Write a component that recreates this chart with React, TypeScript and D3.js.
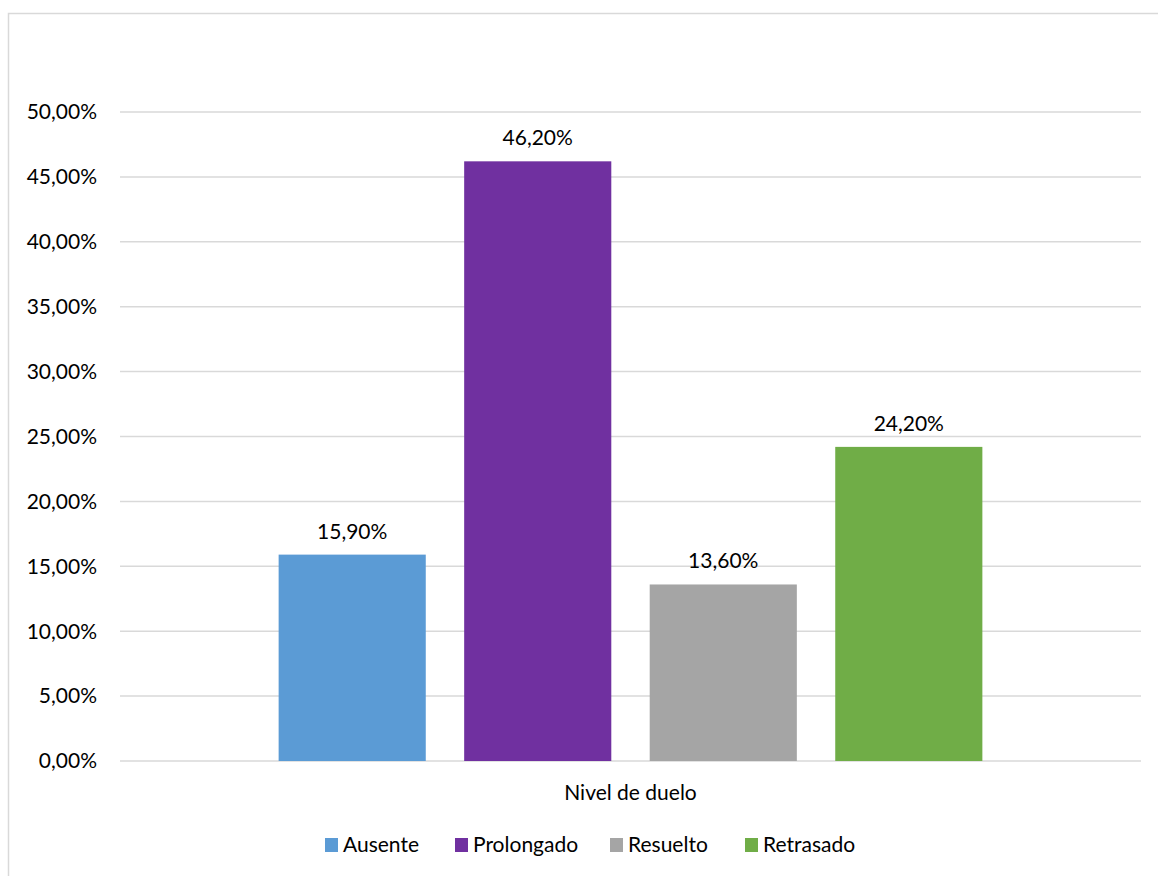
import React from "react";
import * as d3 from "d3";

const categories = ["Nivel de duelo"];
const seriesNames = ["Ausente", "Prolongado", "Resuelto", "Retrasado"];
const seriesValues = [15.9, 46.2, 13.6, 24.2];
const seriesColors = ["#5B9BD5", "#7030A0", "#A5A5A5", "#70AD47"];
const yTicks = [0, 5, 10, 15, 20, 25, 30, 35, 40, 45, 50];

const W = 1158;
const H = 876;
const plot = { left: 120, right: 1141, top: 112, bottom: 761 };
const FONT = "Lato, 'Open Sans', sans-serif";
const FS = 21;

const fmt = (v: number) => v.toFixed(2).replace(".", ",") + "%";

export default function App() {
  const y = d3.scaleLinear().domain([0, 50]).range([plot.bottom, plot.top]);
  const x0 = d3.scaleBand<string>().domain(categories).range([plot.left, plot.right]);
  const x1 = d3
    .scaleBand<string>()
    .domain(seriesNames)
    .range([0, x0.bandwidth()])
    .paddingInner(0.207)
    .paddingOuter(0.855);

  const legendX = [325, 455, 610, 745];

  return (
    <svg
      width={W}
      height={H}
      style={{ position: "absolute", left: 0, top: 0, background: "#fff" }}
      fontFamily={FONT}
    >
      <rect x={8.5} y={13.5} width={1300} height={1000} fill="#fff" stroke="#d9d9d9" strokeWidth={1.5} />
      {yTicks.map((t) => (
        <g key={t}>
          <line x1={plot.left} x2={plot.right} y1={y(t)} y2={y(t)} stroke="#d9d9d9" strokeWidth={1.5} />
          <text x={97} y={y(t)} dy="0.35em" textAnchor="end" fontSize={FS} fill="#000">
            {fmt(t)}
          </text>
        </g>
      ))}
      {categories.map((c) => (
        <g key={c}>
          {seriesNames.map((s, i) => {
            const bx = (x0(c) ?? 0) + (x1(s) ?? 0);
            const bw = x1.bandwidth();
            return (
              <g key={s}>
                <rect x={bx} y={y(seriesValues[i])} width={bw} height={y(0) - y(seriesValues[i])} fill={seriesColors[i]} />
                <text x={bx + bw / 2} y={y(seriesValues[i]) - 16} textAnchor="middle" fontSize={FS} fill="#000">
                  {fmt(seriesValues[i])}
                </text>
              </g>
            );
          })}
          <text x={(x0(c) ?? 0) + x0.bandwidth() / 2} y={800} textAnchor="middle" fontSize={FS} fill="#000">
            {c}
          </text>
        </g>
      ))}
      {seriesNames.map((s, i) => (
        <g key={s} transform={`translate(${legendX[i]},838)`}>
          <rect x={0} y={0} width={13} height={14} fill={seriesColors[i]} />
          <text x={18} y={7} dy="0.35em" fontSize={FS} fill="#000">
            {s}
          </text>
        </g>
      ))}
    </svg>
  );
}
